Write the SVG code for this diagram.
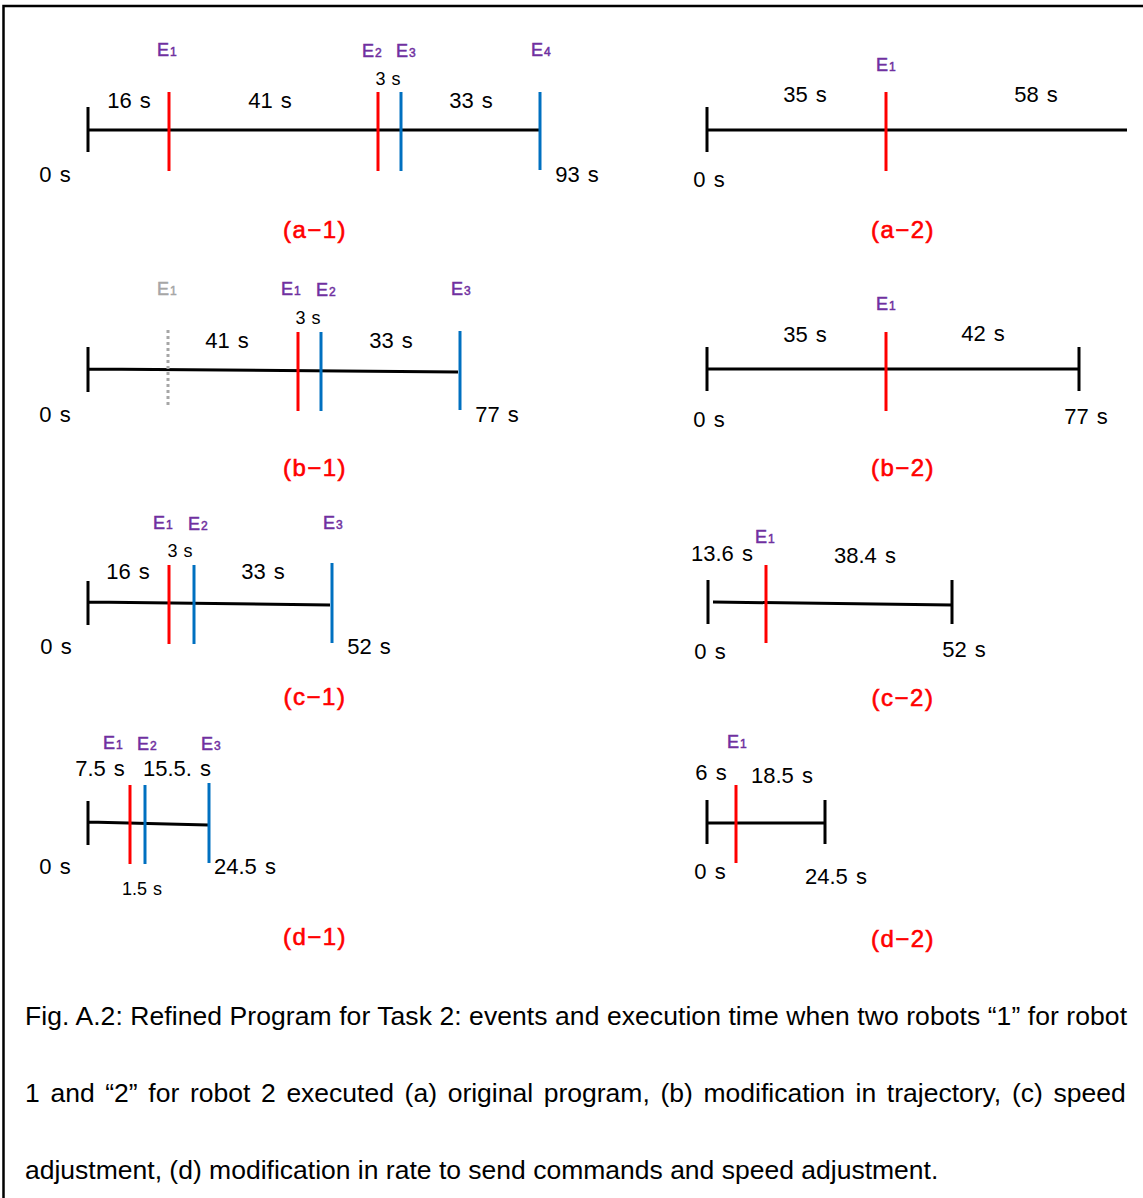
<svg xmlns="http://www.w3.org/2000/svg" width="1143" height="1198" viewBox="0 0 1143 1198">
<style>
.ax{stroke:#000;stroke-width:3;fill:none}
.r{stroke:#FF0000;stroke-width:3}
.b{stroke:#0070C0;stroke-width:3}
.g{stroke:#A6A6A6;stroke-width:3;stroke-dasharray:3 3}
.t{font-family:"Liberation Sans",Arial,sans-serif;font-size:22px;fill:#000;text-anchor:middle;word-spacing:2px}
.s{font-family:"Liberation Sans",Arial,sans-serif;font-size:18px;fill:#000;text-anchor:middle;word-spacing:1px}
.e{font-family:"Liberation Sans",Arial,sans-serif;font-size:18px;fill:#7030A0;stroke:#7030A0;stroke-width:0.5}
.eg{font-family:"Liberation Sans",Arial,sans-serif;font-size:18px;fill:#A6A6A6;stroke:#A6A6A6;stroke-width:0.5}
.sub{font-size:12px}
.lab{font-family:"Liberation Sans",Arial,sans-serif;font-size:24px;fill:#FF0000;stroke:#FF0000;stroke-width:0.6;text-anchor:middle;letter-spacing:1.5px}
.cap{font-family:"Liberation Sans",Arial,sans-serif;font-size:26.5px;fill:#000}
</style>
<rect width="1143" height="1198" fill="#fff"/>
<path d="M3.5,1198 V6 H1143" stroke="#000" stroke-width="2.5" fill="none"/>

<g id="a1">
<path class="ax" d="M88,107V152M88,130H540"/>
<line class="r" x1="169" y1="92" x2="169" y2="171"/>
<line class="r" x1="378" y1="92" x2="378" y2="171"/>
<line class="b" x1="401" y1="92" x2="401" y2="171"/>
<line class="b" x1="540" y1="92" x2="540" y2="170"/>
<text class="e" x="157" y="56">E<tspan class="sub" dx="1">1</tspan></text>
<text class="e" x="362" y="57">E<tspan class="sub" dx="1">2</tspan></text>
<text class="e" x="396" y="57">E<tspan class="sub" dx="1">3</tspan></text>
<text class="e" x="531" y="56">E<tspan class="sub" dx="1">4</tspan></text>
<text class="s" x="388" y="85">3 s</text>
<text class="t" x="129" y="108">16 s</text>
<text class="t" x="270" y="108">41 s</text>
<text class="t" x="471" y="108">33 s</text>
<text class="t" x="55" y="182">0 s</text>
<text class="t" x="577" y="182">93 s</text>
<text class="lab" x="315" y="238">(a−1)</text>
</g>

<g id="a2">
<path class="ax" d="M707,107V152M707,130H1127"/>
<line class="r" x1="886" y1="92" x2="886" y2="171"/>
<text class="e" x="876" y="71">E<tspan class="sub" dx="1">1</tspan></text>
<text class="t" x="805" y="102">35 s</text>
<text class="t" x="1036" y="102">58 s</text>
<text class="t" x="709" y="187">0 s</text>
<text class="lab" x="903" y="238">(a−2)</text>
</g>

<g id="b1">
<path class="ax" d="M88,347V392M88,369L458,372"/>
<line class="g" x1="168" y1="330" x2="168" y2="406"/>
<line class="r" x1="298" y1="332" x2="298" y2="411"/>
<line class="b" x1="321" y1="332" x2="321" y2="411"/>
<line class="b" x1="460" y1="331" x2="460" y2="410"/>
<text class="eg" x="157" y="295">E<tspan class="sub" dx="1">1</tspan></text>
<text class="e" x="281" y="295">E<tspan class="sub" dx="1">1</tspan></text>
<text class="e" x="316" y="296">E<tspan class="sub" dx="1">2</tspan></text>
<text class="e" x="451" y="295">E<tspan class="sub" dx="1">3</tspan></text>
<text class="s" x="308" y="324">3 s</text>
<text class="t" x="227" y="348">41 s</text>
<text class="t" x="391" y="348">33 s</text>
<text class="t" x="55" y="422">0 s</text>
<text class="t" x="497" y="422">77 s</text>
<text class="lab" x="315" y="476">(b−1)</text>
</g>

<g id="b2">
<path class="ax" d="M707,347V391M707,369H1079M1079,347V391"/>
<line class="r" x1="886" y1="332" x2="886" y2="411"/>
<text class="e" x="876" y="310">E<tspan class="sub" dx="1">1</tspan></text>
<text class="t" x="805" y="342">35 s</text>
<text class="t" x="983" y="341">42 s</text>
<text class="t" x="709" y="427">0 s</text>
<text class="t" x="1086" y="424">77 s</text>
<text class="lab" x="903" y="476">(b−2)</text>
</g>

<g id="c1">
<path class="ax" d="M88,581V625M88,602L330,605"/>
<line class="r" x1="169" y1="565" x2="169" y2="644"/>
<line class="b" x1="194" y1="565" x2="194" y2="644"/>
<line class="b" x1="332" y1="563" x2="332" y2="643"/>
<text class="e" x="153" y="529">E<tspan class="sub" dx="1">1</tspan></text>
<text class="e" x="188" y="530">E<tspan class="sub" dx="1">2</tspan></text>
<text class="e" x="323" y="529">E<tspan class="sub" dx="1">3</tspan></text>
<text class="s" x="180" y="557">3 s</text>
<text class="t" x="128" y="579">16 s</text>
<text class="t" x="263" y="579">33 s</text>
<text class="t" x="56" y="654">0 s</text>
<text class="t" x="369" y="654">52 s</text>
<text class="lab" x="315" y="705">(c−1)</text>
</g>

<g id="c2">
<path class="ax" d="M708,580V624M713,602L952,605M952,580V624"/>
<line class="r" x1="766" y1="565" x2="766" y2="643"/>
<text class="e" x="755" y="543">E<tspan class="sub" dx="1">1</tspan></text>
<text class="t" x="722" y="561">13.6 s</text>
<text class="t" x="865" y="563">38.4 s</text>
<text class="t" x="710" y="659">0 s</text>
<text class="t" x="964" y="657">52 s</text>
<text class="lab" x="903" y="706">(c−2)</text>
</g>

<g id="d1">
<path class="ax" d="M88,801V845M88,822L208,825"/>
<line class="r" x1="130" y1="785" x2="130" y2="864"/>
<line class="b" x1="145" y1="785" x2="145" y2="864"/>
<line class="b" x1="209" y1="783" x2="209" y2="863"/>
<text class="e" x="103" y="749">E<tspan class="sub" dx="1">1</tspan></text>
<text class="e" x="137" y="750">E<tspan class="sub" dx="1">2</tspan></text>
<text class="e" x="201" y="750">E<tspan class="sub" dx="1">3</tspan></text>
<text class="t" x="100" y="776">7.5 s</text>
<text class="t" x="177" y="776">15.5. s</text>
<text class="t" x="55" y="874">0 s</text>
<text class="t" x="245" y="874">24.5 s</text>
<text class="s" x="142" y="895">1.5 s</text>
<text class="lab" x="315" y="945">(d−1)</text>
</g>

<g id="d2">
<path class="ax" d="M707,800V844M707,823H825M825,800V844"/>
<line class="r" x1="736" y1="785" x2="736" y2="863"/>
<text class="e" x="727" y="748">E<tspan class="sub" dx="1">1</tspan></text>
<text class="t" x="711" y="780">6 s</text>
<text class="t" x="782" y="783">18.5 s</text>
<text class="t" x="710" y="879">0 s</text>
<text class="t" x="836" y="884">24.5 s</text>
<text class="lab" x="903" y="947">(d−2)</text>
</g>

<g id="connectors"></g>

<g id="caption">
<text class="cap" x="25" y="1025" textLength="1102" lengthAdjust="spacing">Fig. A.2: Refined Program for Task 2: events and execution time when two robots “1” for robot</text>
<text class="cap" x="25" y="1102" word-spacing="3.3">1 and “2” for robot 2 executed (a) original program, (b) modification in trajectory, (c) speed</text>
<text class="cap" x="25" y="1179">adjustment, (d) modification in rate to send commands and speed adjustment.</text>
</g>
</svg>
